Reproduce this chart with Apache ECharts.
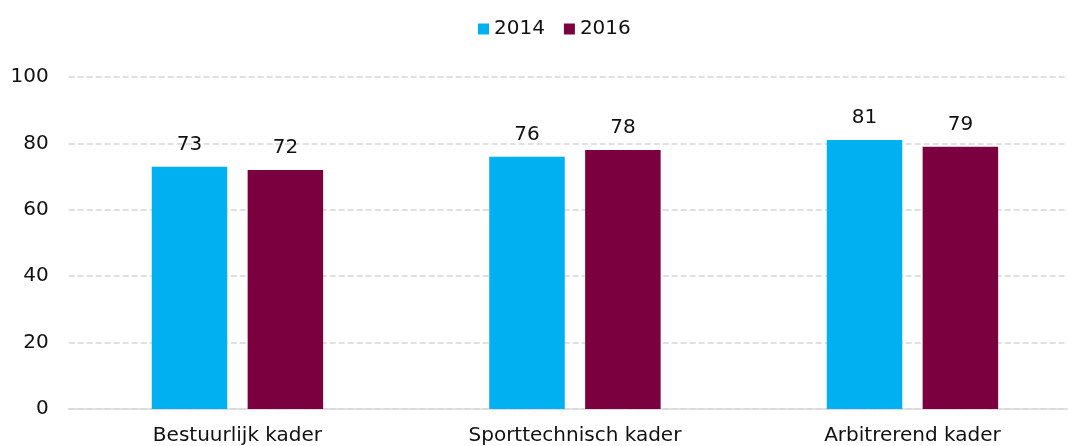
<!DOCTYPE html>
<html>
<head>
<meta charset="utf-8">
<script src="https://cdn.jsdelivr.net/npm/echarts@6/dist/echarts.min.js"></script>
<style>
  html, body { margin: 0; padding: 0; background: #fff; overflow: hidden; }
  #chart { width: 1082px; height: 446px; }
</style>
</head>
<body>
<div id="chart"></div>
<script>
var categories = ['Bestuurlijk kader', 'Sporttechnisch kader', 'Arbitrerend kader'];
var values2014 = [73, 76, 81];
var values2016 = [72, 78, 79];
var yTicks = [0, 20, 40, 60, 80, 100];

var fontFam = '"DejaVu Sans", sans-serif';
var chart = echarts.init(document.getElementById('chart'));

// gemeenschappelijke labelstijl
var barLabel = {
    show: true,
    position: 'top',
    distance: 12,
    color: '#111',
    fontSize: 20,
    fontFamily: fontFam
};

chart.setOption({
    animation: false,
    legend: {
        top: 14,
        left: 473,
        itemWidth: 11,
        itemHeight: 11,
        itemGap: 19,
        icon: 'rect',
        textStyle: { color: '#111', fontSize: 20, fontFamily: fontFam },
        data: ['2014', '2016']
    },
    // de plot loopt rechts iets buiten beeld door
    grid: { left: 68.7, right: 0.8, top: 77, bottom: 36, containLabel: false },
    xAxis: {
        type: 'category',
        data: categories,
        axisLine: { lineStyle: { color: '#d9d9d9', width: 1.5 } },
        axisTick: { show: false },
        axisLabel: { color: '#111', fontSize: 20, fontFamily: fontFam, margin: 17 }
    },
    yAxis: {
        type: 'value',
        min: yTicks[0],
        max: yTicks[yTicks.length - 1],
        interval: 20,
        axisLine: { show: false },
        axisTick: { show: false },
        axisLabel: { color: '#111', fontSize: 20, fontFamily: fontFam, margin: 20 },
        splitLine: { lineStyle: { color: '#d6d6d6', type: [6, 3], width: 1.5 } }
    },
    series: [
        {
            name: '2014',
            type: 'bar',
            data: values2014,
            barWidth: 75.5,
            barGap: '27%',
            itemStyle: { color: '#00B0F0' },
            label: barLabel
        },
        {
            name: '2016',
            type: 'bar',
            data: values2016,
            barWidth: 75.5,
            itemStyle: { color: '#7A0040' },
            label: barLabel
        }
    ]
});
</script>
</body>
</html>
